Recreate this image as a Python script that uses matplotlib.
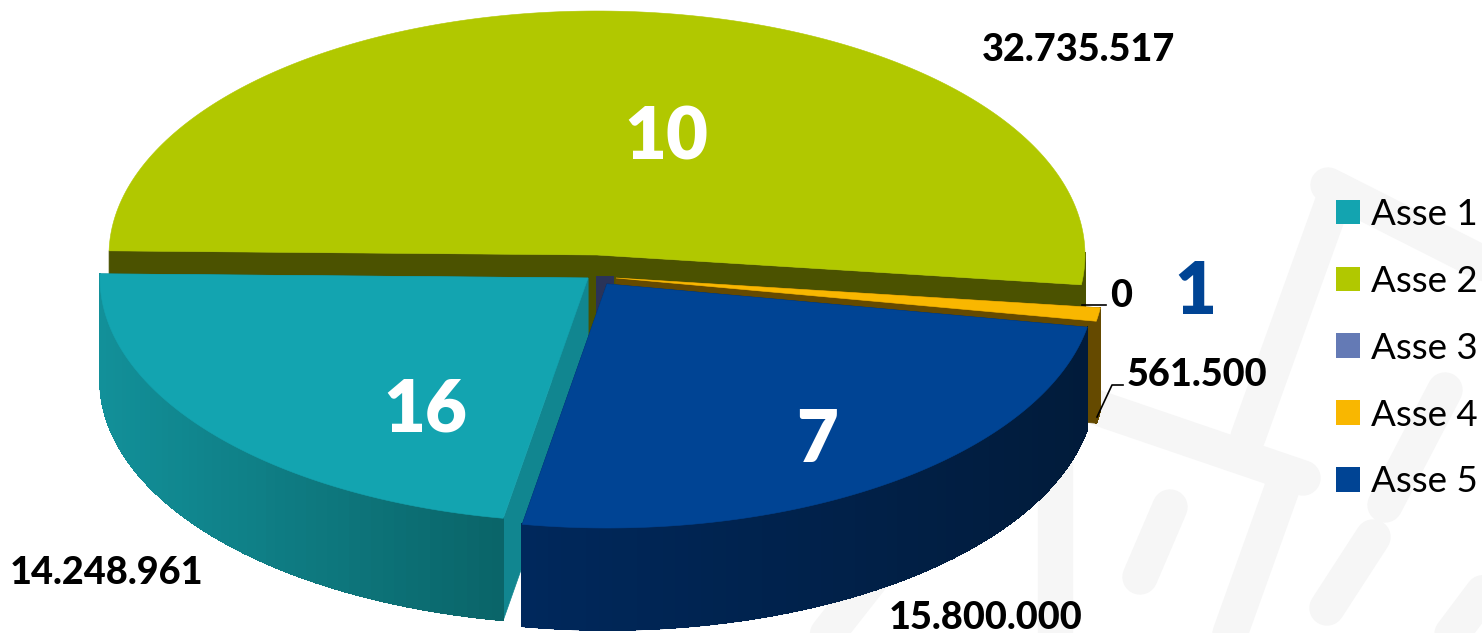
import numpy as np
import matplotlib
matplotlib.use("Agg")
import matplotlib.pyplot as plt
from matplotlib.collections import PolyCollection, LineCollection
from matplotlib.patches import Patch, Polygon, Rectangle
from matplotlib.colors import to_rgb

# ---- data
categories = ["Asse 1", "Asse 2", "Asse 3", "Asse 4", "Asse 5"]
amounts = [14248961, 32735517, 0, 561500, 15800000]
counts = [16, 10, None, 1, 7]

# ---- style
top_colors = ["#13a4b0", "#b1c800", "#647ab5", "#f9b700", "#004494"]
wall_colors = ["#118690", "#4b5200", "#2a3358", "#654a00", "#00285c"]
side_left = ["#129099", "#4b5200", "#2a3358", "#654a00", "#00285c"]
side_right = ["#0a6468", "#4b5200", "#2a3358", "#654a00", "#011b3a"]
apex = [(588, 278), (597, 255), (596, 276), (616, 278), (607, 284)]
count_pos = [(425, 410), (666, 138), None, (1195, 293), (817, 441)]
count_colors = ["white", "white", None, "#004494", "white"]
value_pos = [(107, 573), (1079, 50), (1121, 296), (1197, 375), (986, 618)]
RX, RY, DEPTH = 488, 244, 102
START = 190.0
FONT = "Lato"

fig = plt.figure(figsize=(14.82, 6.33), dpi=100, facecolor="white")
ax = fig.add_axes([0, 0, 1, 1])
ax.set_xlim(0, 1482)
ax.set_ylim(633, 0)
ax.axis("off")

# faint background watermark
GREY = "#f6f6f6"
strokes = [
    ((1328, 185), (1500, 272)), ((1337, 190), (1248, 437)),
    ((1060, 395), (1303, 478)), ((1284, 483), (1226, 645)),
    ((1170, 507), (1140, 577)), ((1373, 537), (1327, 608)),
    ((1445, 390), (1385, 505)), ((1500, 570), (1440, 650)),
    ((1055, 440), (1055, 650)), ((870, 580), (815, 650)),
]
for (x0, y0), (x1, y1) in strokes:
    ax.plot([x0, x1], [y0, y1], color=GREY, lw=25.5, solid_capstyle="round", zorder=0)


def pt(c, th, dz=0):
    r = np.radians(th)
    return (c[0] + RX * np.sin(r), c[1] - RY * np.cos(r) + dz)


def draw_slice(i, a0, a1, z):
    c = apex[i]
    # radial walls
    for a in (a0, a1):
        p = pt(c, a)
        ax.add_patch(Polygon([c, p, (p[0], p[1] + DEPTH), (c[0], c[1] + DEPTH)],
                             fc=wall_colors[i], ec=wall_colors[i], lw=0.5, zorder=z))
    # outer side, shaded across x
    ths = np.linspace(a0, a1, max(int((a1 - a0) / 1.5) + 2, 3))
    polys, cols, rims = [], [], []
    cl, cr = np.array(to_rgb(side_left[i])), np.array(to_rgb(side_right[i]))
    for t0, t1 in zip(ths[:-1], ths[1:]):
        if np.cos(np.radians((t0 + t1) / 2)) > 0.02:
            continue
        p0, p1 = pt(c, t0), pt(c, t1)
        polys.append([p0, p1, (p1[0], p1[1] + DEPTH), (p0[0], p0[1] + DEPTH)])
        rims.append([(p0[0], p0[1] + DEPTH), (p1[0], p1[1] + DEPTH)])
        xm = (p0[0] + p1[0]) / 2
        u = (xm - (c[0] - RX)) / (RX - 85) if i == 0 else (xm - (c[0] - 85)) / (RX + 85)
        cols.append(cl + (cr - cl) * float(np.clip(u, 0, 1)))
    if polys:
        ax.add_collection(PolyCollection(polys, facecolors=cols, edgecolors=cols,
                                         linewidths=0.6, antialiaseds=False, zorder=z + 0.1))
        ax.add_collection(LineCollection(rims, colors=cols, linewidths=1.0, zorder=z + 0.1))
    # top face
    ths = np.linspace(a0, a1, 200)
    x, y = pt(c, ths)
    ax.add_patch(Polygon(np.vstack([[c], np.column_stack([x, y])]),
                         fc=top_colors[i], ec=top_colors[i], lw=0.4, zorder=z + 0.2))


# angles come from the values
total = sum(amounts)
angles = [START]
for v in amounts:
    angles.append(angles[-1] + 360.0 * v / total)
bounds = {i: (angles[i], angles[i + 1]) for i in range(5)}
z_order = {1: 2, 3: 4, 0: 5, 4: 6}
for i in [1, 3, 0, 4]:
    a0, a1 = bounds[i]
    draw_slice(i, a0, a1, z_order[i])
# right end of the back slice's rim
ths = np.linspace(90, bounds[1][1] - 360, 12)
xr, yr = pt(apex[1], ths)
ax.add_patch(Polygon(np.vstack([np.column_stack([xr, yr]),
                                np.column_stack([xr[::-1], yr[::-1] + DEPTH])]),
                     fc=wall_colors[1], ec=wall_colors[1], lw=0.5, zorder=2.05))
# zero-size slice: only its thin wall shows
ax.add_patch(Rectangle(apex[2], 18, 40, fc=wall_colors[2], ec="none", zorder=3))

# counts inside / near the slices
for n, p, col in zip(counts, count_pos, count_colors):
    if n is not None:
        ax.text(p[0], p[1], str(n), color=col, fontsize=52, fontweight=800,
                family=FONT, ha="center", va="center", zorder=10)

# amounts with leaders
for v, p in zip(amounts, value_pos):
    ax.text(p[0], p[1], f"{v:,}".replace(",", "."), fontsize=27.3, fontweight=900,
            family=FONT, color="black", ha="center", va="center", zorder=10)
ax.plot([1082, 1106], [305, 305], color="black", lw=1.2, zorder=9)
ax.plot([1097, 1112, 1123], [417, 385, 385], color="black", lw=1.2, zorder=9)

# legend
handles = [Patch(fc=c, ec="none") for c in top_colors]
leg = ax.legend(handles, categories, loc="upper left", bbox_to_anchor=(1336 / 1482, 1 - 198 / 633),
                frameon=False, prop={"family": FONT, "size": 26.5},
                handlelength=0.652, handleheight=0.652, handletextpad=0.3,
                labelspacing=0.92, borderpad=0, borderaxespad=0)
leg.set_zorder(11)

fig.savefig("out.png", dpi=100)
